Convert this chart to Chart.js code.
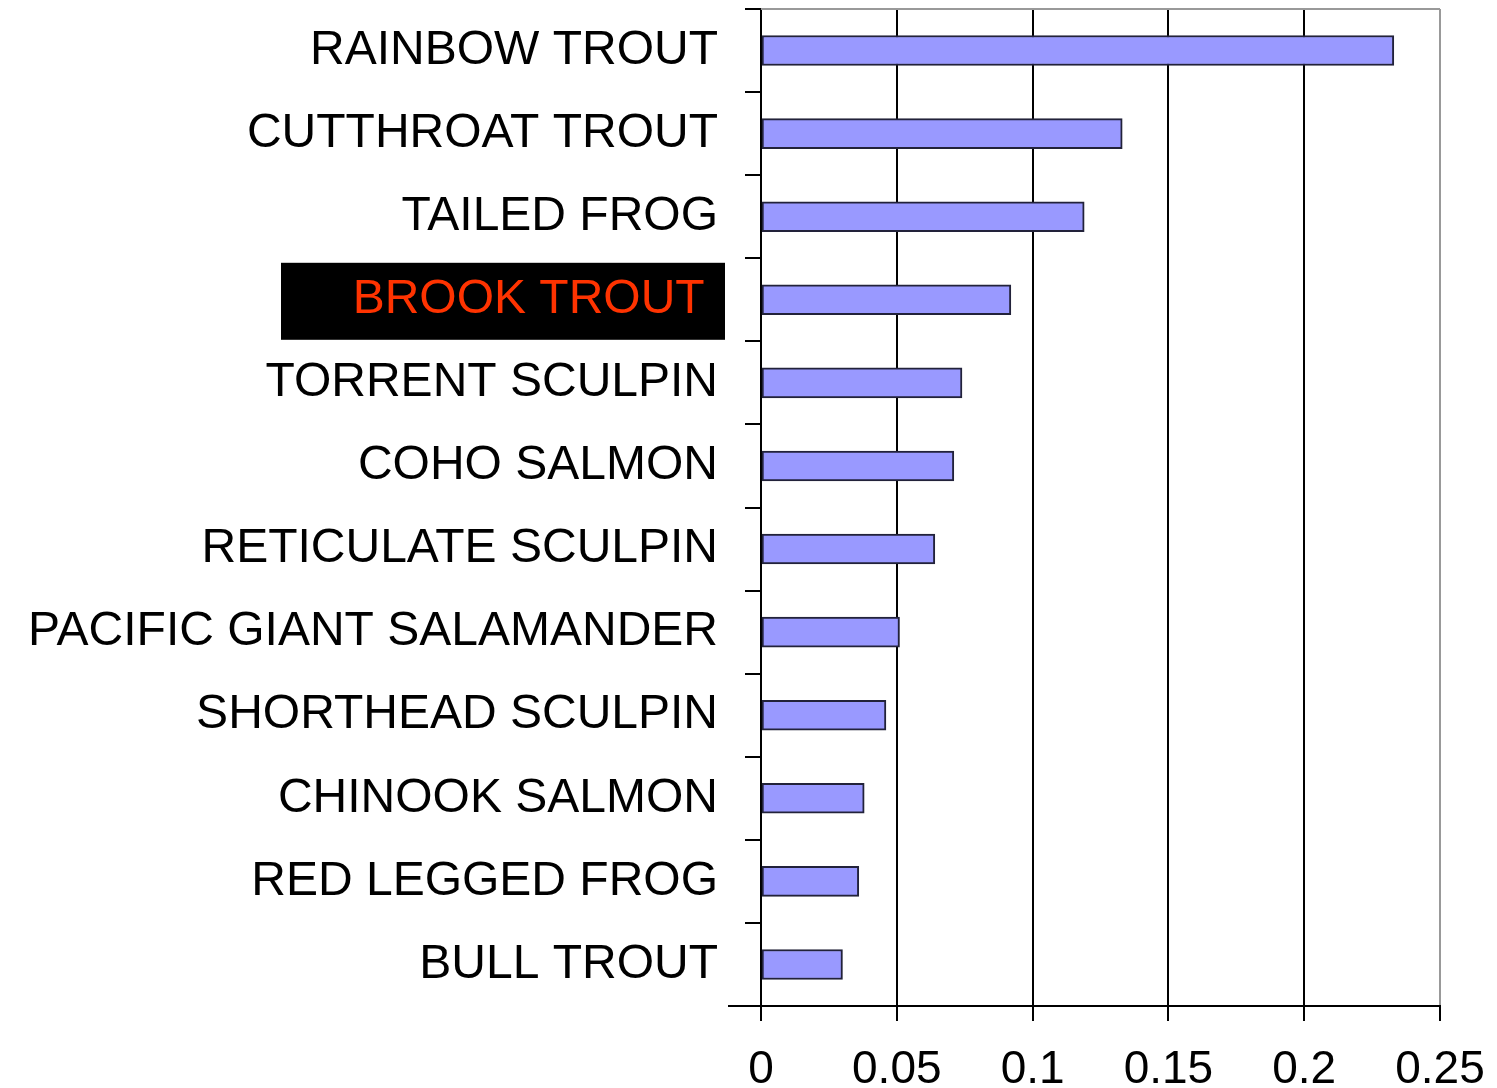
<!DOCTYPE html>
<html lang="en">
<head>
    <meta charset="UTF-8">
    <title>Species Bar Chart</title>
    <script src="https://cdn.jsdelivr.net/npm/chart.js"></script>
    <style>
        body { margin: 0; background: #fff; }
        #wrap { width: 1497px; height: 1088px; }
    </style>
</head>
<body>
    <div id="wrap">
        <canvas id="species"></canvas>
    </div>
</body>
<script>
    const species = [
        "RAINBOW TROUT", "CUTTHROAT TROUT", "TAILED FROG", "BROOK TROUT",
        "TORRENT SCULPIN", "COHO SALMON", "RETICULATE SCULPIN",
        "PACIFIC GIANT SALAMANDER", "SHORTHEAD SCULPIN", "CHINOOK SALMON",
        "RED LEGGED FROG", "BULL TROUT"
    ];
    const values = [0.233, 0.133, 0.119, 0.092, 0.074, 0.071, 0.064, 0.051, 0.046, 0.038, 0.036, 0.030];
    const highlighted = "BROOK TROUT";
    const xTicks = [0, 0.05, 0.1, 0.15, 0.2, 0.25];

    const fontFamily = "'Liberation Sans', Arial, sans-serif";

    // black box behind the highlighted species name, gray frame on top
    const highlightBox = {
        id: "highlightBox",
        beforeDraw(chart) {
            const y = chart.scales.y;
            const idx = species.indexOf(highlighted);
            const cy = y.getPixelForValue(idx);
            const ctx = chart.ctx;
            ctx.save();
            ctx.fillStyle = "#000";
            ctx.fillRect(281, cy - 37, 444, 77);
            ctx.restore();
        },
        afterDraw(chart) {
            const a = chart.chartArea;
            const ctx = chart.ctx;
            ctx.save();
            ctx.strokeStyle = "#999";
            ctx.lineWidth = 2;
            ctx.beginPath();
            ctx.moveTo(a.left, a.top);
            ctx.lineTo(a.right, a.top);
            ctx.stroke();
            // bottom axis runs on a little past the left axis
            ctx.strokeStyle = "#000";
            ctx.beginPath();
            ctx.moveTo(a.left - 33, a.bottom);
            ctx.lineTo(a.left, a.bottom);
            ctx.stroke();
            ctx.restore();
        }
    };

    // keep the plot area fixed instead of padding it for the tick labels
    function noPad(s) {
        s.paddingTop = 0;
        s.paddingBottom = 0;
        s.paddingLeft = 0;
        s.paddingRight = 0;
    }

    new Chart(document.getElementById("species"), {
        type: "bar",
        data: {
            labels: species,
            datasets: [{
                data: values,
                backgroundColor: "#9999ff",
                borderColor: "#22223a",
                borderWidth: 2,
                borderSkipped: false,
                barThickness: 30
            }]
        },
        options: {
            indexAxis: "y",
            responsive: true,
            maintainAspectRatio: false,
            animation: false,
            layout: { padding: { top: 9, right: 57, left: 0, bottom: 0 } },
            plugins: {
                legend: { display: false },
                tooltip: { enabled: false }
            },
            scales: {
                x: {
                    min: 0,
                    max: 0.25,
                    afterBuildTicks: s => { s.ticks = xTicks.map(v => ({ value: v })); },
                    afterFit: s => { s.height = 82; noPad(s); },
                    border: { color: "#000", width: 2 },
                    grid: {
                        color: c => (c.tick && c.tick.value === 0.25 ? "#999" : "#000"),
                        tickColor: "#000",
                        lineWidth: 2,
                        tickLength: 15
                    },
                    ticks: {
                        color: "#000",
                        padding: 22,
                        font: { family: fontFamily, size: 46 },
                        callback: v => String(v)
                    }
                },
                y: {
                    afterFit: s => { s.width = 761; noPad(s); },
                    border: { color: "#000", width: 2 },
                    grid: {
                        drawOnChartArea: false,
                        color: "#000",
                        lineWidth: 2,
                        tickLength: 16
                    },
                    ticks: {
                        padding: 27,
                        font: { family: fontFamily, size: 48 },
                        color: c => (species[c.index] === highlighted ? "#ff3300" : "#000"),
                        callback: (v, i) => (species[i] === highlighted ? species[i] + " " : species[i])
                    }
                }
            }
        },
        plugins: [highlightBox]
    });
</script>
</html>
